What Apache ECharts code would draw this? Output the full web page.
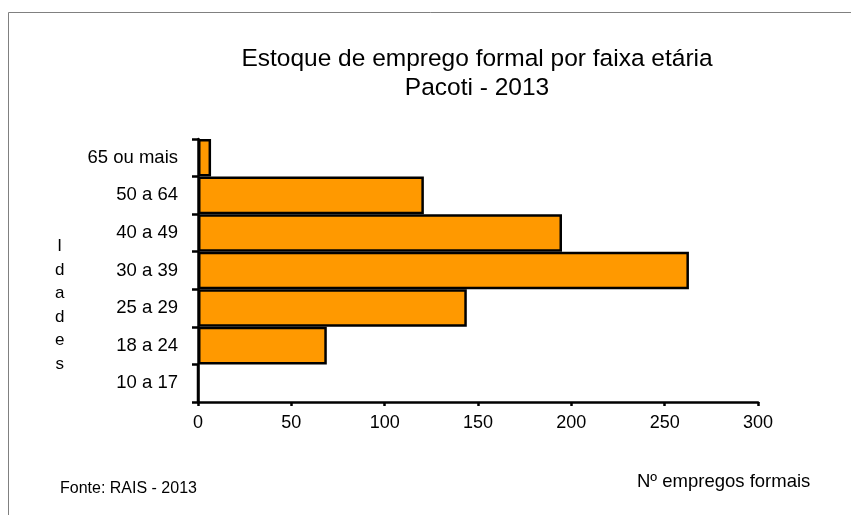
<!DOCTYPE html>
<html>
<head>
<meta charset="utf-8">
<script src="https://cdn.jsdelivr.net/npm/echarts@6/dist/echarts.min.js"></script>
<style>
html,body{margin:0;padding:0;background:#fff;}
#chart{width:851px;height:515px;}
</style>
</head>
<body>
<div id="chart"></div>
<script>
var categories = ['10 a 17', '18 a 24', '25 a 29', '30 a 39', '40 a 49', '50 a 64', '65 ou mais'];
var values = [0, 69, 144, 263, 195, 121, 7];
var xTicks = [0, 50, 100, 150, 200, 250, 300];

var FONT = '"Liberation Sans", Arial, sans-serif';
var chart = echarts.init(document.getElementById('chart'), null, {renderer: 'canvas'});
chart.setOption({
  animation: false,
  backgroundColor: '#fff',
  title: {
    text: 'Estoque de emprego formal por faixa etária\nPacoti - 2013',
    left: 472,
    top: 40,
    textAlign: 'center',
    textStyle: {fontFamily: FONT, fontSize: 24.5, fontWeight: 'normal', color: '#000', lineHeight: 29}
  },
  grid: {left: 198, right: 93, top: 139, bottom: 113, containLabel: false},
  xAxis: {
    type: 'value',
    min: xTicks[0],
    max: xTicks[xTicks.length - 1],
    interval: 50,
    splitLine: {show: false},
    axisLine: {show: true, lineStyle: {color: '#000', width: 2.5}},
    axisTick: {show: true, length: 4, lineStyle: {color: '#000', width: 2.5}},
    axisLabel: {fontFamily: FONT, fontSize: 18, color: '#000', margin: 12}
  },
  yAxis: {
    type: 'category',
    data: categories,
    axisLine: {show: true, lineStyle: {color: '#000', width: 2.5}},
    axisTick: {show: true, length: 6, alignWithLabel: false, lineStyle: {color: '#000', width: 2.5}},
    axisLabel: {fontFamily: FONT, fontSize: 18.5, color: '#000', margin: 20}
  },
  series: [{
    type: 'bar',
    data: values,
    barCategoryGap: '0%',
    itemStyle: {color: '#FF9900', borderColor: '#000', borderWidth: 2.5}
  }],
  graphic: [
    {type: 'rect', shape: {x: 8.5, y: 12.5, width: 900, height: 600}, style: {fill: 'none', stroke: '#808080', lineWidth: 1}, silent: true, z: -10},
    {type: 'text', left: 55, top: 235, style: {text: 'I\nd\na\nd\ne\ns', fontFamily: FONT, fontSize: 17, lineHeight: 23.5, fill: '#000', textAlign: 'center'}},
    {type: 'text', left: 60, top: 481, style: {text: 'Fonte: RAIS - 2013', fontFamily: FONT, fontSize: 16, fill: '#000'}},
    {type: 'text', left: 637, top: 472, style: {text: 'Nº empregos formais', fontFamily: FONT, fontSize: 18.5, fill: '#000'}}
  ]
});
</script>
</body>
</html>
